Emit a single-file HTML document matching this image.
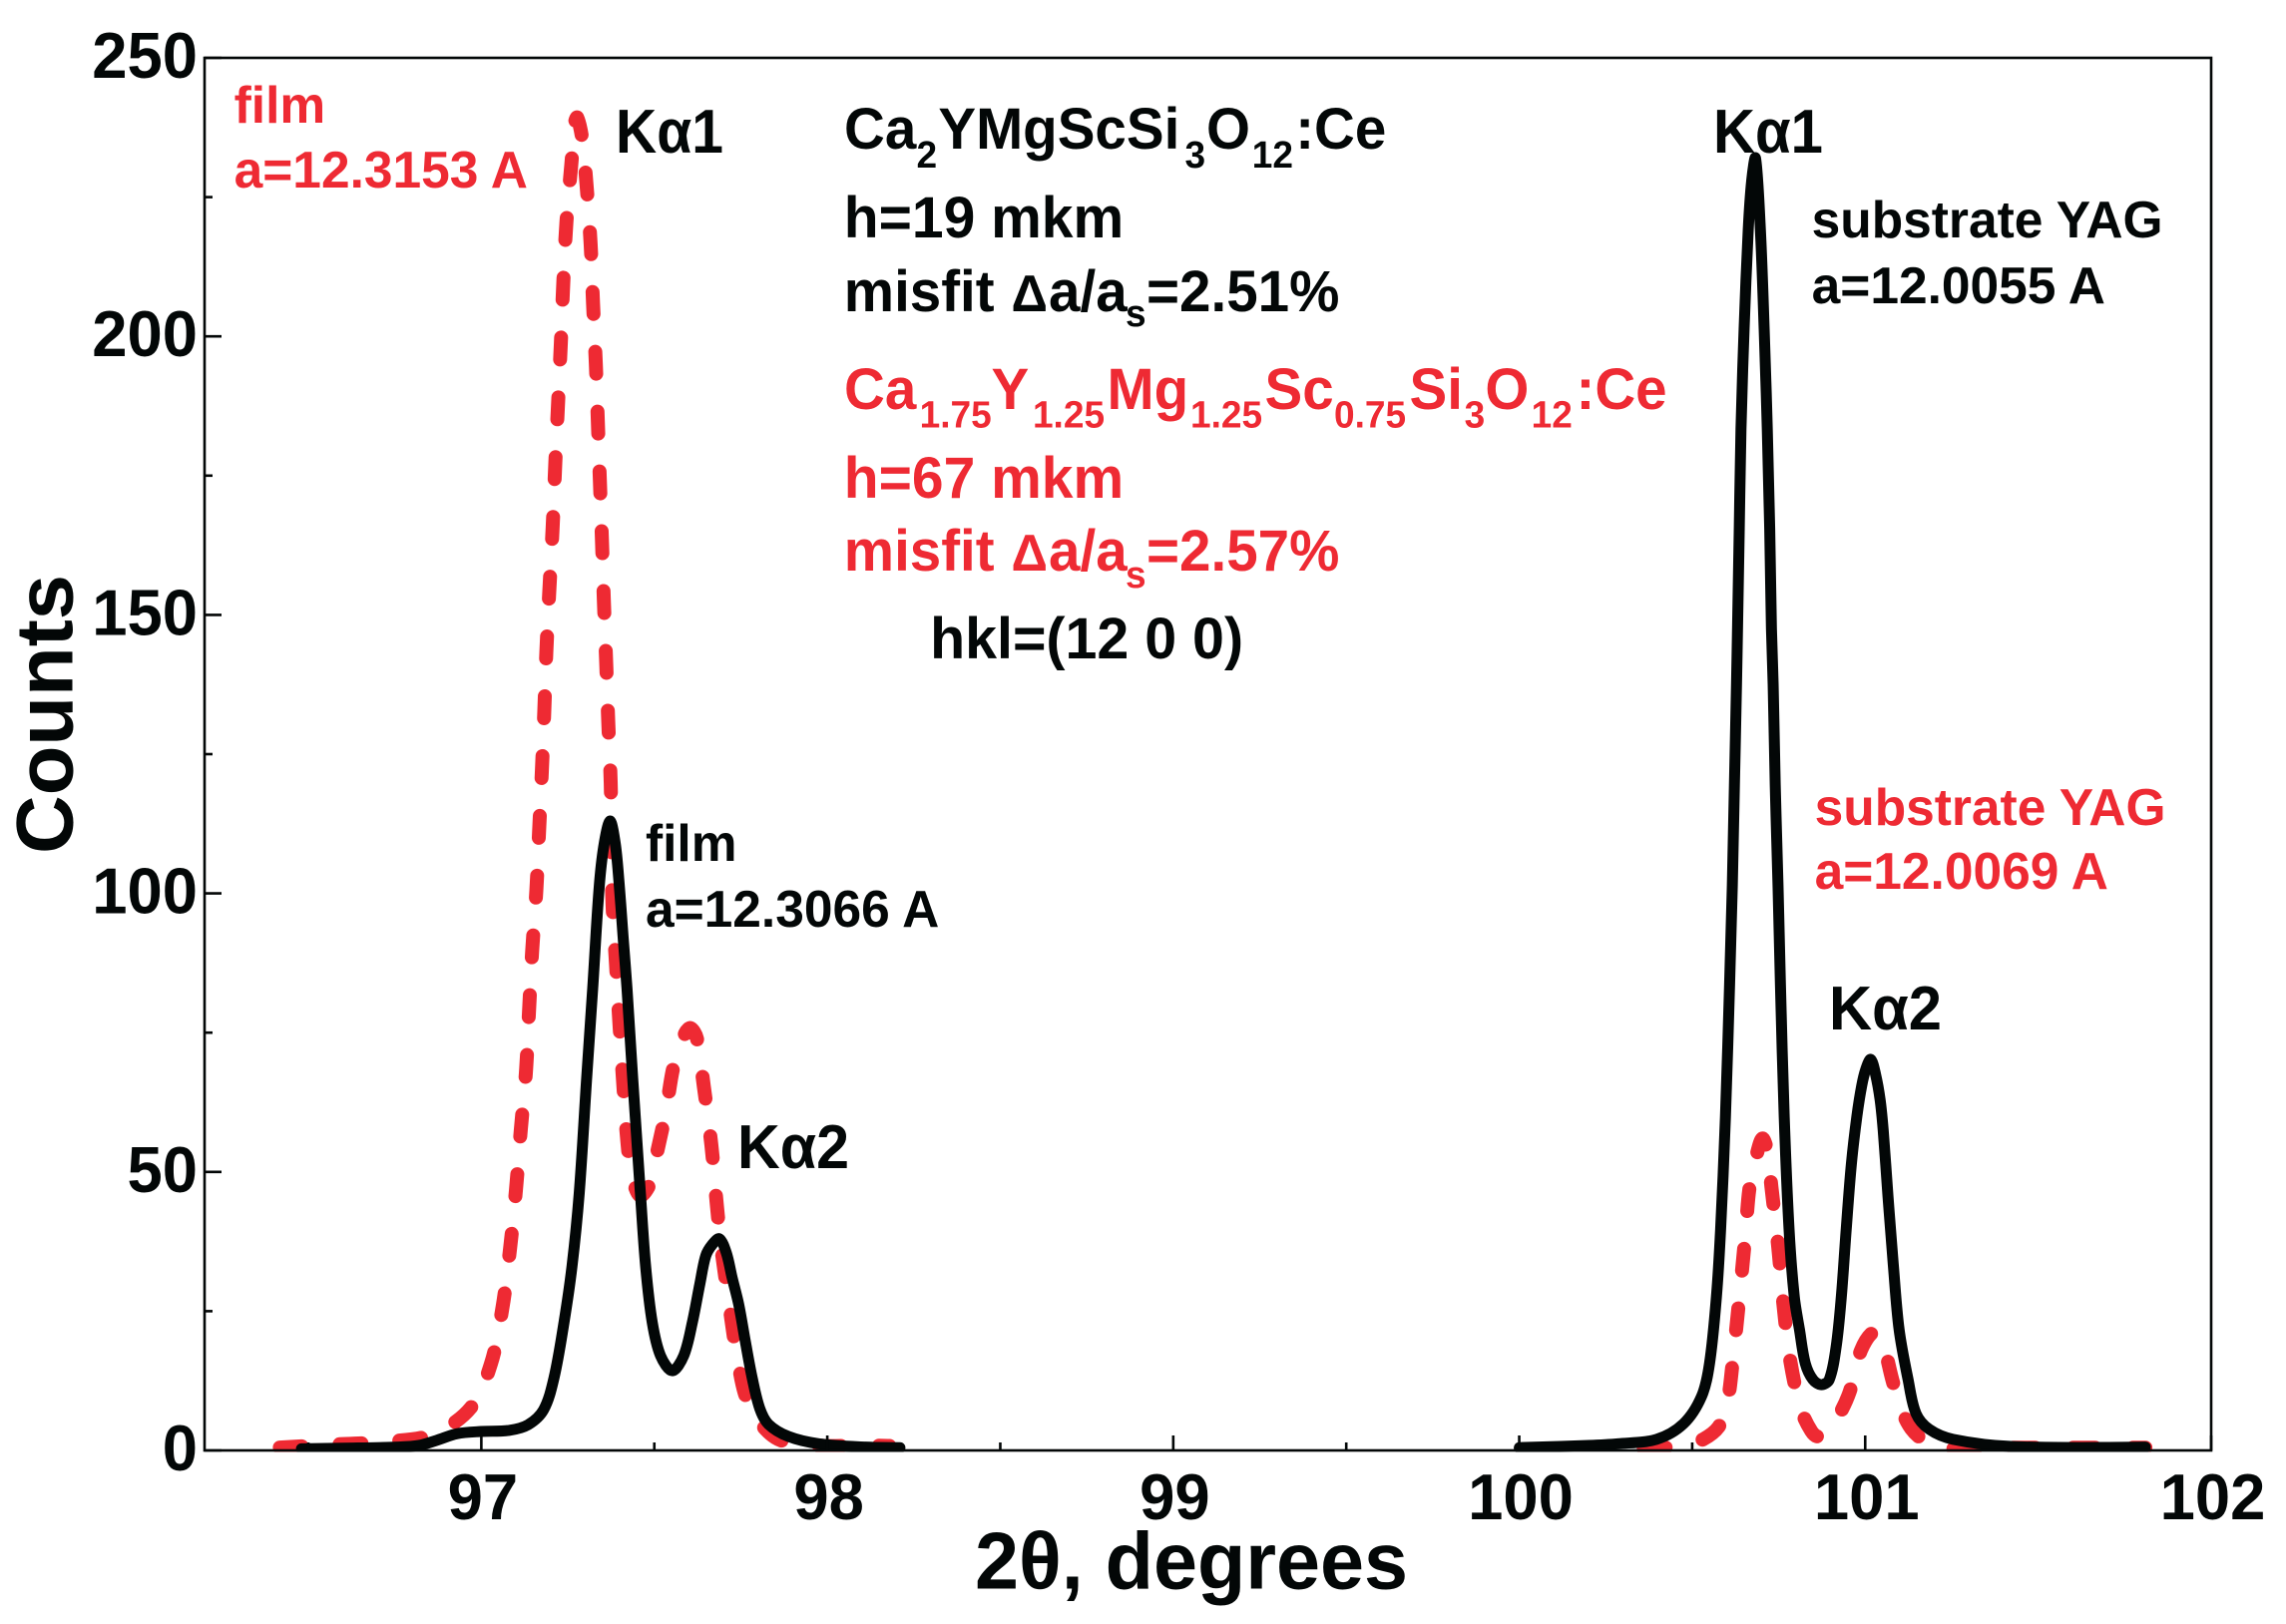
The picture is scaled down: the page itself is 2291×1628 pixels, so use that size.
<!DOCTYPE html>
<html lang="en">
<head>
<meta charset="utf-8">
<title>X-ray rocking curves</title>
<style>
html,body{margin:0;padding:0;background:#fff;}
svg{display:block;}
text{font-family:"Liberation Sans",sans-serif;font-weight:bold;}
.k{fill:#030707;}
.r{fill:#ee2a33;}
</style>
</head>
<body>
<svg id="chart" xmlns="http://www.w3.org/2000/svg" width="2291" height="1628" viewBox="0 0 2291 1628">
<defs><clipPath id="plot-clip"><rect x="205" y="58" width="2011" height="1397.5"/></clipPath></defs>
<rect x="0" y="0" width="2291" height="1628" fill="#fff"/>
<g id="marks" clip-path="url(#plot-clip)"></g>
<g id="axes"></g>

<text class="k" font-size="81" transform="translate(72.5,856) rotate(-90)" textLength="280" lengthAdjust="spacingAndGlyphs">Counts</text>
<text class="k" font-size="81" x="977" y="1592.5" textLength="434" lengthAdjust="spacingAndGlyphs">2θ, degrees</text>

<g transform="scale(.975,1)">
<text class="k" font-size="58" y="149"><tspan x="867.7">Ca</tspan><tspan x="942" dy="19" font-size="38">2</tspan><tspan x="964.5" dy="-19">YMgScSi</tspan><tspan x="1217.9" dy="19" font-size="38">3</tspan><tspan x="1240" dy="-19">O</tspan><tspan x="1287" dy="19" font-size="38">12</tspan><tspan x="1331.5" dy="-19">:Ce</tspan></text>
<text class="k" font-size="58" x="867.5" y="238" textLength="287.5" lengthAdjust="spacingAndGlyphs">h=19 mkm</text>
<text class="k" font-size="58" y="312"><tspan x="867.5">misfit</tspan><tspan x="1039.5" font-size="52">Δ</tspan><tspan x="1078">a/a</tspan><tspan x="1156.9" dy="15" font-size="38">s</tspan><tspan x="1178.5" dy="-15">=2.51%</tspan></text>

<text class="r" font-size="58" y="410"><tspan x="867.7">Ca</tspan><tspan x="945.3" dy="18.5" font-size="38">1.75</tspan><tspan x="1019" dy="-18.5">Y</tspan><tspan x="1061.5" dy="18.5" font-size="38">1.25</tspan><tspan x="1138" dy="-18.5">Mg</tspan><tspan x="1223.6" dy="18.5" font-size="38">1.25</tspan><tspan x="1300" dy="-18.5">Sc</tspan><tspan x="1371.3" dy="18.5" font-size="38">0.75</tspan><tspan x="1448.7" dy="-18.5">Si</tspan><tspan x="1505.2" dy="18.5" font-size="38">3</tspan><tspan x="1526.5" dy="-18.5">O</tspan><tspan x="1574" dy="18.5" font-size="38">12</tspan><tspan x="1620" dy="-18.5">:Ce</tspan></text>
<text class="r" font-size="58" x="867.5" y="499" textLength="287.5" lengthAdjust="spacingAndGlyphs">h=67 mkm</text>
<text class="r" font-size="58" y="572"><tspan x="867.5">misfit</tspan><tspan x="1039.5" font-size="52">Δ</tspan><tspan x="1078">a/a</tspan><tspan x="1156.9" dy="17" font-size="38">s</tspan><tspan x="1178.5" dy="-17">=2.57%</tspan></text>
<text class="k" font-size="58" x="956" y="660" textLength="322" lengthAdjust="spacingAndGlyphs">hkl=(12 0 0)</text>
</g>

<g transform="scale(.99,1)">
<text class="r" font-size="52" x="237" y="123">film</text>
<text class="r" font-size="52" x="237" y="188">a=12.3153 A</text>
<text class="k" font-size="52" x="653.5" y="863">film</text>
<text class="k" font-size="52" x="653.5" y="929">a=12.3066 A</text>
<text class="k" font-size="52" x="1834" y="238">substrate YAG</text>
<text class="k" font-size="52" x="1834" y="304">a=12.0055 A</text>
<text class="r" font-size="52" x="1837" y="827">substrate YAG</text>
<text class="r" font-size="52" x="1837" y="891">a=12.0069 A</text>
</g>

<text class="k" font-size="62" x="617" y="153" textLength="108" lengthAdjust="spacingAndGlyphs">Kα1</text>
<text class="k" font-size="62" x="739" y="1171" textLength="112" lengthAdjust="spacingAndGlyphs">Kα2</text>
<text class="k" font-size="62" x="1717" y="153" textLength="110" lengthAdjust="spacingAndGlyphs">Kα1</text>
<text class="k" font-size="62" x="1833" y="1032" textLength="113" lengthAdjust="spacingAndGlyphs">Kα2</text>

<script>
var xMajorTicks = [97, 98, 99, 100, 101, 102];
var xMinorTicks = [96.5, 97.5, 98.5, 99.5, 100.5, 101.5];
var xTickLabels = ['97', '98', '99', '100', '101', '102'];
var yMajorTicks = [0, 50, 100, 150, 200, 250];
var yMinorTicks = [25, 75, 125, 175, 225];
var yTickLabels = ['0', '50', '100', '150', '200', '250'];

var blackFilmAngle = [96.48, 96.6, 96.76, 96.82, 96.87, 96.93, 97.0, 97.08, 97.135, 97.18, 97.21, 97.239, 97.262, 97.283, 97.304, 97.322, 97.3405, 97.354, 97.372, 97.387, 97.398, 97.41, 97.421, 97.438, 97.4455, 97.46, 97.475, 97.494, 97.518, 97.552, 97.585, 97.61, 97.632, 97.649, 97.668, 97.688, 97.708, 97.725, 97.744, 97.763, 97.783, 97.805, 97.83, 97.888, 97.975, 98.11, 98.21];
var blackFilmCounts = [0.3, 0.4, 0.6, 0.9, 1.8, 3.0, 3.4, 3.6, 4.6, 7.3, 13, 23, 33, 46.2, 66.4, 83, 101, 108.5, 113, 109, 102, 92, 83, 66.4, 59.4, 46, 33, 23, 17, 14.3, 17, 23, 30, 35, 37, 38, 35.5, 31, 26.2, 19.6, 13, 7.5, 4.7, 2.5, 1.2, 0.6, 0.5];

var blackSubstrateAngle = [100.0, 100.2, 100.285, 100.397, 100.475, 100.527, 100.55, 100.57, 100.582, 100.596, 100.608, 100.616, 100.622, 100.628, 100.631, 100.636, 100.641, 100.65, 100.662, 100.672, 100.683, 100.697, 100.708, 100.717, 100.724, 100.729, 100.734, 100.74, 100.748, 100.755, 100.766, 100.78, 100.795, 100.81, 100.827, 100.849, 100.873, 100.896, 100.916, 100.931, 100.945, 100.96, 100.976, 100.99, 101.002, 101.016, 101.03, 101.043, 101.052, 101.066, 101.081, 101.098, 101.124, 101.147, 101.185, 101.254, 101.427, 101.81];
var blackSubstrateCounts = [0.5, 0.9, 1.2, 2.0, 4.8, 9.7, 15.6, 27.6, 39.6, 59.8, 83.6, 101.5, 119.4, 137.4, 147.6, 165.5, 183.4, 201.3, 219.2, 228, 232, 219.2, 201.3, 183.4, 165.5, 147.6, 137.4, 119.4, 101.5, 83.6, 59.8, 39.6, 27.6, 21.7, 15.6, 12.7, 11.8, 12.7, 18.6, 27.6, 39.6, 51.4, 60, 65.5, 68.5, 70.2, 67.5, 63, 57.5, 45.5, 33.5, 21.7, 12.7, 6.6, 3.8, 2, 0.7, 0.6];

var redFilmAngle = [96.383, 96.585, 96.732, 96.861, 96.97, 97.028, 97.061, 97.083, 97.1, 97.114, 97.129, 97.138, 97.147, 97.159, 97.167, 97.175, 97.182, 97.188, 97.196, 97.206, 97.214, 97.222, 97.23, 97.237, 97.246, 97.26, 97.271, 97.277, 97.291, 97.304, 97.316, 97.323, 97.331, 97.337, 97.343, 97.349, 97.354, 97.361, 97.367, 97.374, 97.376, 97.379, 97.389, 97.399, 97.41, 97.422, 97.435, 97.459, 97.49, 97.508, 97.533, 97.557, 97.59, 97.605, 97.623, 97.643, 97.665, 97.681, 97.694, 97.715, 97.741, 97.773, 97.85, 97.965, 98.11, 98.18];
var redFilmCounts = [0.4, 1.1, 1.6, 2.9, 7.7, 15.6, 25.6, 36.2, 46.7, 57.5, 68, 79, 89.7, 100.5, 111.2, 122, 132.7, 143.4, 153.7, 165.5, 177.5, 188.2, 199, 209.7, 220.5, 230.8, 238.5, 239.3, 235.7, 227.3, 216.5, 205.8, 195, 184.3, 173.5, 162.8, 152.9, 141.3, 130.6, 119.8, 109, 98.3, 87.6, 76.8, 66, 55.5, 49.4, 45.7, 48.2, 53.5, 60.7, 69.3, 75, 75.8, 74, 65.4, 54.8, 43.9, 36.2, 26.9, 16.3, 8.4, 2.3, 0.9, 0.9, 0.8];

var redSubstrateAngle = [100.285, 100.397, 100.484, 100.532, 100.576, 100.6, 100.62, 100.638, 100.654, 100.666, 100.686, 100.703, 100.718, 100.729, 100.748, 100.764, 100.784, 100.815, 100.844, 100.864, 100.892, 100.921, 100.955, 100.988, 101.026, 101.051, 101.084, 101.133, 101.213, 101.378, 101.81];
var redSubstrateCounts = [0.1, 0.4, 1.0, 2, 4.2, 7.9, 17.7, 28.5, 38.9, 47.3, 53, 56, 53.5, 47.3, 36.9, 26, 15.9, 7.3, 3.5, 2.5, 3.8, 6, 10.5, 18, 21.3, 19.2, 11.5, 3.9, 0.6, 0.5, 0.5];

var redFilmDashAnchor = 97.283;
var redSubstrateDashAnchor = 100.697;

var xDomainMin = 96.2, xDomainMax = 102, yDomainMin = 0, yDomainMax = 250;
var plotLeft = 205, plotRight = 2216, plotTop = 58, plotBottom = 1454;
var NS = 'http://www.w3.org/2000/svg';
var marks = document.getElementById('marks');
var axes = document.getElementById('axes');

function xScale(v) { return plotLeft + (v - xDomainMin) / (xDomainMax - xDomainMin) * (plotRight - plotLeft); }
function yScale(v) { return plotBottom - (v - yDomainMin) / (yDomainMax - yDomainMin) * (plotBottom - plotTop); }

function smoothPath(angles, counts) {
  var p = angles.map(function (a, i) { return [xScale(a), yScale(counts[i])]; });
  var dist = function (a, b) { return Math.hypot(a[0] - b[0], a[1] - b[1]) || 0.001; };
  var tangent = function (i) {
    if (i === 0 || i === p.length - 1) { return [0, 0]; }
    var d = dist(p[i - 1], p[i]) + dist(p[i], p[i + 1]);
    return [(p[i + 1][0] - p[i - 1][0]) / d, (p[i + 1][1] - p[i - 1][1]) / d];
  };
  var s = 'M' + p[0][0].toFixed(2) + ' ' + p[0][1].toFixed(2);
  for (var i = 0; i < p.length - 1; i++) {
    var d = dist(p[i], p[i + 1]) / 3;
    var t0 = tangent(i), t1 = tangent(i + 1);
    s += 'C' + (p[i][0] + t0[0] * d).toFixed(2) + ' ' + (p[i][1] + t0[1] * d).toFixed(2) + ' ' +
      (p[i + 1][0] - t1[0] * d).toFixed(2) + ' ' + (p[i + 1][1] - t1[1] * d).toFixed(2) + ' ' +
      p[i + 1][0].toFixed(2) + ' ' + p[i + 1][1].toFixed(2);
  }
  return s;
}

function alignDash(path, anchorAngle) {
  var target = xScale(anchorAngle);
  var total = path.getTotalLength();
  var L = 0;
  while (L < total && path.getPointAtLength(L).x < target) { L += 1; }
  path.setAttribute('stroke-dashoffset', (11 - L).toFixed(1));
}

var redFilmPath = document.createElementNS(NS, 'path');


redFilmPath.setAttribute('d', smoothPath(redFilmAngle, redFilmCounts));
redFilmPath.setAttribute('fill', 'none');
redFilmPath.setAttribute('stroke', '#ee2a33');
redFilmPath.setAttribute('stroke-width', '14');
redFilmPath.setAttribute('stroke-linecap', 'round');
redFilmPath.setAttribute('stroke-linejoin', 'round');
redFilmPath.setAttribute('stroke-dasharray', '22 38');
marks.appendChild(redFilmPath);
alignDash(redFilmPath, redFilmDashAnchor);

var redSubstratePath = document.createElementNS(NS, 'path');


redSubstratePath.setAttribute('d', smoothPath(redSubstrateAngle, redSubstrateCounts));
redSubstratePath.setAttribute('fill', 'none');
redSubstratePath.setAttribute('stroke', '#ee2a33');
redSubstratePath.setAttribute('stroke-width', '14');
redSubstratePath.setAttribute('stroke-linecap', 'round');
redSubstratePath.setAttribute('stroke-linejoin', 'round');
redSubstratePath.setAttribute('stroke-dasharray', '22 38');
marks.appendChild(redSubstratePath);
alignDash(redSubstratePath, redSubstrateDashAnchor);

var blackFilmPath = document.createElementNS(NS, 'path');


blackFilmPath.setAttribute('d', smoothPath(blackFilmAngle, blackFilmCounts));
blackFilmPath.setAttribute('fill', 'none');
blackFilmPath.setAttribute('stroke', '#030707');
blackFilmPath.setAttribute('stroke-width', '11');
blackFilmPath.setAttribute('stroke-linecap', 'round');
blackFilmPath.setAttribute('stroke-linejoin', 'round');
marks.appendChild(blackFilmPath);

var blackSubstratePath = document.createElementNS(NS, 'path');


blackSubstratePath.setAttribute('d', smoothPath(blackSubstrateAngle, blackSubstrateCounts));
blackSubstratePath.setAttribute('fill', 'none');
blackSubstratePath.setAttribute('stroke', '#030707');
blackSubstratePath.setAttribute('stroke-width', '11');
blackSubstratePath.setAttribute('stroke-linecap', 'round');
blackSubstratePath.setAttribute('stroke-linejoin', 'round');
marks.appendChild(blackSubstratePath);

var frame = document.createElementNS(NS, 'rect');


frame.setAttribute('x', plotLeft);
frame.setAttribute('y', plotTop);
frame.setAttribute('width', plotRight - plotLeft);
frame.setAttribute('height', plotBottom - plotTop);
frame.setAttribute('fill', 'none');
frame.setAttribute('stroke', '#030707');
frame.setAttribute('stroke-width', '2.6');
axes.appendChild(frame);

function addTick(name, x1, y1, x2, y2) {
  var el = document.createElementNS(NS, 'line');
  
  
  el.setAttribute('x1', x1);
  el.setAttribute('y1', y1);
  el.setAttribute('x2', x2);
  el.setAttribute('y2', y2);
  el.setAttribute('stroke', '#030707');
  el.setAttribute('stroke-width', '2.6');
  axes.appendChild(el);
}

function addLabel(name, text, x, y, anchor) {
  var el = document.createElementNS(NS, 'text');
  
  
  el.setAttribute('class', 'k');
  el.setAttribute('font-size', '65');
  el.setAttribute('text-anchor', anchor);
  el.setAttribute('transform', 'translate(' + x + ',' + y + ') scale(.975,1)');
  el.textContent = text;
  axes.appendChild(el);
}

xMajorTicks.forEach(function (v, i) {
  addTick('x-major-tick', xScale(v), plotBottom, xScale(v), plotBottom - 15);
  addLabel('x-tick-label', xTickLabels[i], xScale(v) + 1.5, 1523, 'middle');
});
xMinorTicks.forEach(function (v) {
  addTick('x-minor-tick', xScale(v), plotBottom, xScale(v), plotBottom - 8);
});
yMajorTicks.forEach(function (v, i) {
  addTick('y-major-tick', plotLeft, yScale(v), plotLeft + 17, yScale(v));
  addLabel('y-tick-label', yTickLabels[i], 198, yScale(v) + 20, 'end');
});
yMinorTicks.forEach(function (v) {
  addTick('y-minor-tick', plotLeft, yScale(v), plotLeft + 8, yScale(v));
});
</script>
</svg>
</body>
</html>
